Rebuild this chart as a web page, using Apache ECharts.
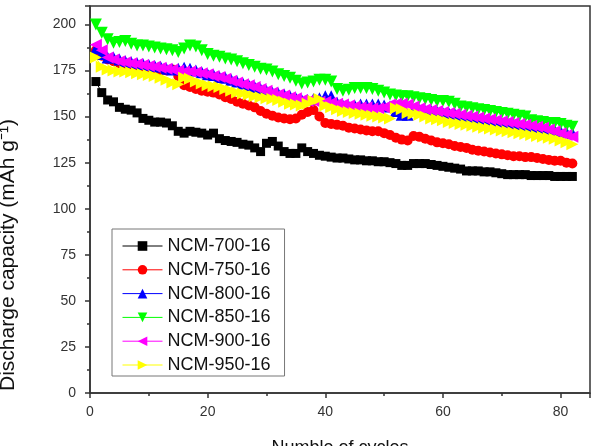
<!DOCTYPE html>
<html>
<head>
<meta charset="utf-8">
<script src="https://cdn.jsdelivr.net/npm/echarts@6/dist/echarts.min.js"></script>
<style>
  html, body { margin: 0; padding: 0; background: #fff; }
  #chart { width: 596px; height: 446px; }
</style>
</head>
<body>
<div id="chart"></div>
<script>
// cycles 1..82
const cycles = [];
for (let i = 1; i <= 82; i++) cycles.push(i);

const seriesNames = ['NCM-700-16', 'NCM-750-16', 'NCM-800-16', 'NCM-850-16', 'NCM-900-16', 'NCM-950-16'];

const ncm700 = [169, 163, 159, 158, 155, 154, 153.5, 152, 149, 148,
    147, 147, 146.5, 145, 142, 141, 142, 141.5, 141, 140,
    141, 138, 137, 136.5, 136, 135, 134.5, 133, 131, 135.5,
    136.5, 134, 131, 130, 130, 133, 131, 130, 129, 128.5,
    128, 127.5, 127.5, 127, 126.5, 126.5, 126, 126, 125.5, 125.5,
    125, 124.5, 123.5, 123.5, 124.5, 124.5, 124.5, 124, 123.5, 123,
    122.5, 122, 121.5, 120.5, 120.5, 120.5, 120, 120, 119.5, 119,
    118.5, 118.5, 118.5, 118.5, 118, 118, 118, 118, 117.5, 117.5,
    117.5, 117.5];

const ncm750 = [186, 183, 181, 180, 179, 178, 177.5, 177, 176, 175.5,
    175, 175, 175, 175.5, 172, 167, 166, 165, 164, 163.5,
    163, 162, 160.5, 159.5, 158, 157, 156, 155, 153, 151.5,
    150.5, 149.5, 149, 148.5, 149, 151, 152.5, 153.5, 150, 146.5,
    146, 145.5, 145, 144, 143.5, 143, 142.5, 142, 142, 141,
    140, 138.5, 137.5, 137, 139.5, 139, 138, 137, 136, 135.5,
    135, 134, 133.5, 133, 132, 131.5, 131, 130.5, 130, 129.5,
    129, 128.5, 128.5, 128, 128, 127.5, 127, 126.5, 126, 126,
    125, 124.5];

const ncm800 = [187, 184, 182, 182, 181, 180, 179.5, 179, 178.5, 178,
    177.5, 177, 176, 175.5, 176, 176.5, 176, 175, 174, 173,
    172.5, 171.5, 171, 170, 169, 168, 167, 166, 165, 164,
    163, 162.5, 162, 161, 160, 159, 159, 159.5, 160, 161,
    161, 157.5, 156, 155.5, 156, 156.5, 156.5, 156.5, 156.5, 156,
    155.5, 153, 151, 151, 153.5, 153.5, 153, 153, 152.5, 152,
    152, 151.5, 150, 149, 148, 147.5, 147.5, 147, 147, 146.5,
    146.5, 146, 145.5, 145, 144.5, 144, 143.5, 143, 142.5, 142,
    141.5, 141];

const ncm850 = [200, 195.5, 192, 190, 190.5, 191, 189.5, 188.5, 188.5, 188,
    187.5, 187, 186.5, 186, 185, 187, 188.5, 188, 186, 184,
    183, 182.5, 181.5, 181, 180, 179, 178, 177, 176, 175.5,
    174.5, 173, 172, 171, 169.5, 168, 168.5, 169, 170, 170,
    169, 165, 164, 164.5, 165.5, 165.5, 165.5, 165, 164, 163,
    162, 161.5, 161, 161, 160.5, 160, 159.5, 159, 158.5, 158.5,
    158, 157, 155.5, 155, 154.5, 154, 153.5, 153, 152.5, 152,
    151.5, 151, 150.5, 150, 148, 147.5, 147, 146.5, 146.5, 146,
    145, 144.5];

const ncm900 = [189, 186, 182, 181, 180, 179.5, 179, 178.5, 178, 177.5,
    177, 176.5, 176, 175.5, 175, 174.5, 174.5, 174, 173.5, 173,
    172, 171.5, 170.5, 169.5, 168.5, 167.5, 167, 166, 165, 164,
    163, 162, 161.5, 160.5, 160, 159, 158.5, 158.5, 158, 158,
    157.5, 157, 156.5, 156, 155.5, 155, 155, 154.5, 154.5, 155,
    156.5, 157, 157, 156.5, 155.5, 154.5, 154, 153.5, 153, 152.5,
    152, 151.5, 151, 150.5, 150, 149.5, 149, 148.5, 148, 147.5,
    147, 146.5, 146, 145.5, 145, 144.5, 144, 143, 142, 141,
    140, 139];

const ncm950 = [182, 177, 175.5, 175, 174.5, 174.5, 174, 173.5, 173, 172.5,
    172, 171, 170, 168.5, 167.5, 171, 170.5, 169, 168, 167,
    166.5, 166, 165, 164, 163, 162.5, 162, 161, 160.5, 160,
    159.5, 159, 158, 157, 156.5, 156, 157, 158.5, 159.5, 156,
    155, 154, 153, 152.5, 152, 151.5, 151, 150.5, 150, 149.5,
    149, 154.5, 154, 152, 151.5, 151, 150, 149, 148.5, 148,
    147, 146.5, 146, 145.5, 145, 144.5, 144, 143.5, 143, 142.5,
    142, 141.5, 141, 140.5, 140, 139.5, 139, 138.5, 138, 137,
    136, 135];

const yTicks = [0, 25, 50, 75, 100, 125, 150, 175, 200];

const chart = echarts.init(document.getElementById('chart'), null, { renderer: 'canvas' });

const colors = ['#000000', '#ff0000', '#0000ff', '#00ff00', '#ff00ff', '#ffff00'];
const symbols = ['rect', 'circle', 'triangle', 'triangle', 'triangle', 'triangle'];
const rotates = [0, 0, 0, 180, 90, -90];
const sizes = [9, 10, 12, 12, 12, 12];
const allData = [ncm700, ncm750, ncm800, ncm850, ncm900, ncm950];

const series = allData.map((vals, i) => ({
    name: seriesNames[i],
    type: 'line',
    data: cycles.map((c, j) => [c, vals[j]]),
    symbol: symbols[i],
    symbolRotate: rotates[i],
    symbolSize: sizes[i],
    showAllSymbol: true,
    lineStyle: { color: colors[i], width: 1 },
    itemStyle: { color: colors[i] },
    animation: false
}));

const axisColor = '#333';

chart.setOption({
    backgroundColor: '#fff',
    grid: {
        left: 90, top: 6, right: 6, bottom: 53,
        outerBoundsMode: 'none',
        containLabel: false,
        show: true, borderColor: axisColor, borderWidth: 1.5
    },
    legend: {
        left: 112, top: 229,
        orient: 'vertical',
        itemWidth: 40, itemHeight: 12, itemGap: 5.8,
        padding: [8, 14, 2, 10],
        borderColor: '#777', borderWidth: 1,
        lineStyle: { width: 1 },
        textStyle: { fontFamily: 'Liberation Sans', fontSize: 18, color: '#111', lineHeight: 18 },
        data: seriesNames
    },
    graphic: [{
        type: 'text',
        x: 8, y: 255,
        rotation: Math.PI / 2,
        style: {
            text: 'Discharge capacity (mAh g\u207B\u00B9)',
            fontFamily: 'Liberation Sans', fontSize: 21, fill: '#111',
            align: 'center', verticalAlign: 'middle'
        }
    }],
    xAxis: {
        type: 'value',
        min: 0, max: 85, interval: 20,
        name: 'Numble of cycles',
        nameLocation: 'middle', nameGap: 46,
        nameTextStyle: { fontFamily: 'Liberation Sans', fontSize: 18, color: '#111' },
        axisLine: { show: true, lineStyle: { color: axisColor, width: 1.5 } },
        axisTick: { show: true, length: 5, lineStyle: { color: axisColor, width: 1.5 } },
        minorTick: { show: true, splitNumber: 2, length: 3, lineStyle: { color: axisColor, width: 1.5 } },
        axisLabel: { fontFamily: 'Liberation Sans', fontSize: 14, color: '#333', margin: 12, showMaxLabel: false },
        splitLine: { show: false }
    },
    yAxis: {
        type: 'value',
        min: 0, max: 210, interval: 25,
        axisLine: { show: true, lineStyle: { color: axisColor, width: 1.5 } },
        axisTick: { show: true, length: 5, lineStyle: { color: axisColor, width: 1.5 } },
        minorTick: { show: true, splitNumber: 2, length: 3, lineStyle: { color: axisColor, width: 1.5 } },
        axisLabel: {
            fontFamily: 'Liberation Sans', fontSize: 14, color: '#333', margin: 14,
            showMaxLabel: false,
            formatter: v => (yTicks.indexOf(v) >= 0 ? String(v) : '')
        },
        splitLine: { show: false }
    },
    series: series
});
</script>
</body>
</html>
